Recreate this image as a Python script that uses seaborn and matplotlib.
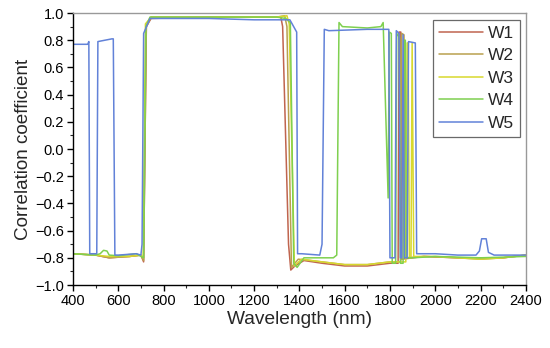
import matplotlib
matplotlib.use("Agg")
import matplotlib.pyplot as plt
from matplotlib.ticker import MultipleLocator
import seaborn as sns
import pandas as pd

series_names = ["W1", "W2", "W3", "W4", "W5"]
colors = ["#c0654f", "#b9a04e", "#d8d82e", "#7fd04f", "#6282d8"]

w1_wl = [400, 500, 560, 650, 700, 712, 724, 745, 1000, 1200, 1300, 1318, 1326, 1352, 1362, 1380, 1420, 1500,
         1600, 1700, 1800, 1836, 1840, 1848, 1852, 1950, 2100, 2200, 2300, 2400]
w1_r = [-0.77, -0.78, -0.80, -0.79, -0.78, -0.83, 0.90, 0.96, 0.97, 0.97, 0.97, 0.97, 0.90, -0.70, -0.89, -0.86,
        -0.82, -0.84, -0.86, -0.86, -0.84, -0.84, 0.86, 0.86, -0.81, -0.79, -0.80, -0.80, -0.80, -0.78]

w2_wl = [400, 500, 560, 650, 700, 712, 724, 745, 1000, 1200, 1300, 1335, 1345, 1365, 1375, 1395, 1500, 1600,
         1700, 1800, 1848, 1852, 1862, 1866, 1950, 2100, 2200, 2300, 2400]
w2_r = [-0.77, -0.78, -0.80, -0.79, -0.78, -0.82, 0.90, 0.97, 0.97, 0.97, 0.97, 0.98, 0.90, -0.87, -0.85,
        -0.81, -0.83, -0.85, -0.85, -0.83, -0.83, 0.85, 0.84, -0.80, -0.79, -0.80, -0.81, -0.80, -0.78]

w3_wl = [400, 500, 560, 650, 700, 710, 720, 745, 1000, 1200, 1300, 1345, 1355, 1378, 1390, 1410, 1500, 1600,
         1700, 1800, 1870, 1876, 1880, 1886, 1893, 1898, 1905, 2000, 2100, 2200, 2300, 2400]
w3_r = [-0.77, -0.78, -0.79, -0.79, -0.78, -0.80, 0.92, 0.97, 0.97, 0.97, 0.97, 0.98, 0.92, -0.86, -0.84,
        -0.81, -0.83, -0.85, -0.85, -0.83, -0.83, 0.78, 0.78, -0.80, -0.80, 0.78, -0.79, -0.79, -0.80, -0.81,
        -0.80, -0.78]

w4_wl = [400, 500, 520, 535, 550, 560, 600, 680, 700, 712, 722, 740, 1000, 1200, 1300, 1340, 1360, 1375, 1390,
         1420, 1500, 1550, 1565, 1575, 1590, 1700, 1760, 1770, 1792, 1797, 1806, 1810, 1825, 1830, 1842, 1846,
         1858, 1862, 1868, 1872, 1900, 2000, 2200, 2400]
w4_r = [-0.77, -0.78, -0.77, -0.745, -0.75, -0.78, -0.785, -0.77, -0.79, -0.80, 0.90, 0.97, 0.97, 0.97, 0.97,
        0.96, 0.93, -0.84, -0.87, -0.80, -0.80, -0.80, -0.78, 0.93, 0.90, 0.89, 0.90, 0.93, -0.36, 0.86, 0.85,
        -0.84, -0.84, 0.85, 0.82, -0.84, -0.84, 0.80, 0.80, -0.80, -0.80, -0.79, -0.80, -0.79]

w5_wl = [400, 465, 470, 474, 505, 510, 572, 578, 585, 600, 680, 700, 705, 712, 740, 1000, 1200, 1310, 1358,
         1388, 1392, 1410, 1490, 1500, 1510, 1530, 1700, 1795, 1800, 1822, 1828, 1840, 1846, 1852, 1858, 1864,
         1876, 1882, 1912, 1918, 2000, 2100, 2180, 2195, 2205, 2225, 2235, 2260, 2400]
w5_r = [0.77, 0.77, 0.79, -0.77, -0.77, 0.79, 0.81, 0.81, -0.78, -0.78, -0.77, -0.78, -0.70, 0.85, 0.96, 0.96,
        0.95, 0.95, 0.95, 0.86, -0.77, -0.77, -0.78, -0.70, 0.88, 0.87, 0.88, 0.88, -0.80, -0.80, 0.87, 0.85,
        -0.80, -0.80, 0.84, -0.80, -0.80, 0.79, 0.78, -0.77, -0.77, -0.78, -0.78, -0.75, -0.66, -0.66, -0.76,
        -0.78, -0.78]

frames = []
for name, wl, r in zip(series_names,
                       [w1_wl, w2_wl, w3_wl, w4_wl, w5_wl],
                       [w1_r, w2_r, w3_r, w4_r, w5_r]):
    frames.append(pd.DataFrame({"wl": wl, "r": r, "series": name}))
df = pd.concat(frames, ignore_index=True)

sns.set_theme(style="ticks")
plt.rcParams["font.family"] = ["Liberation Sans", "DejaVu Sans"]

fig = plt.figure(figsize=(5.5, 3.48), dpi=100)
ax = fig.add_axes([0.1327, 0.181, 0.8233, 0.7816])

sns.lineplot(data=df, x="wl", y="r", hue="series", palette=dict(zip(series_names, colors)),
             sort=False, estimator=None, linewidth=1.1, ax=ax)

ax.set_xlim(400, 2400)
ax.set_ylim(-1.0, 1.0)
ax.xaxis.set_major_locator(MultipleLocator(200))
ax.xaxis.set_minor_locator(MultipleLocator(100))
ax.yaxis.set_major_locator(MultipleLocator(0.2))
ax.yaxis.set_minor_locator(MultipleLocator(0.1))
ax.yaxis.set_major_formatter(matplotlib.ticker.FuncFormatter(lambda v, p: f"{v:.1f}".replace("-", "\u2212")))
ax.tick_params(axis="both", which="major", direction="out", length=4.5, width=1, labelsize=10.5,
               colors="black", pad=2, top=False, right=False)
ax.tick_params(axis="both", which="minor", direction="out", length=2.5, width=0.8, top=False, right=False)
ax.set_xlabel("Wavelength (nm)", fontsize=13.8, labelpad=2)
ax.set_ylabel("Correlation coefficient", fontsize=13.6, labelpad=2)
for s in ["left", "bottom"]:
    ax.spines[s].set_color("black")
    ax.spines[s].set_linewidth(1.0)
for s in ["top", "right"]:
    ax.spines[s].set_color("#999999")
    ax.spines[s].set_linewidth(1.0)

handles, labels = ax.get_legend_handles_labels()
leg = ax.legend(handles, labels, loc="upper right", bbox_to_anchor=(0.987, 0.975), fontsize=12.5,
                frameon=True, fancybox=False, edgecolor="#444444", handlelength=2.5, handletextpad=0.3,
                labelspacing=0.42, borderpad=0.35, borderaxespad=0)
leg.get_frame().set_linewidth(0.9)

fig.savefig("out.png", dpi=100)
